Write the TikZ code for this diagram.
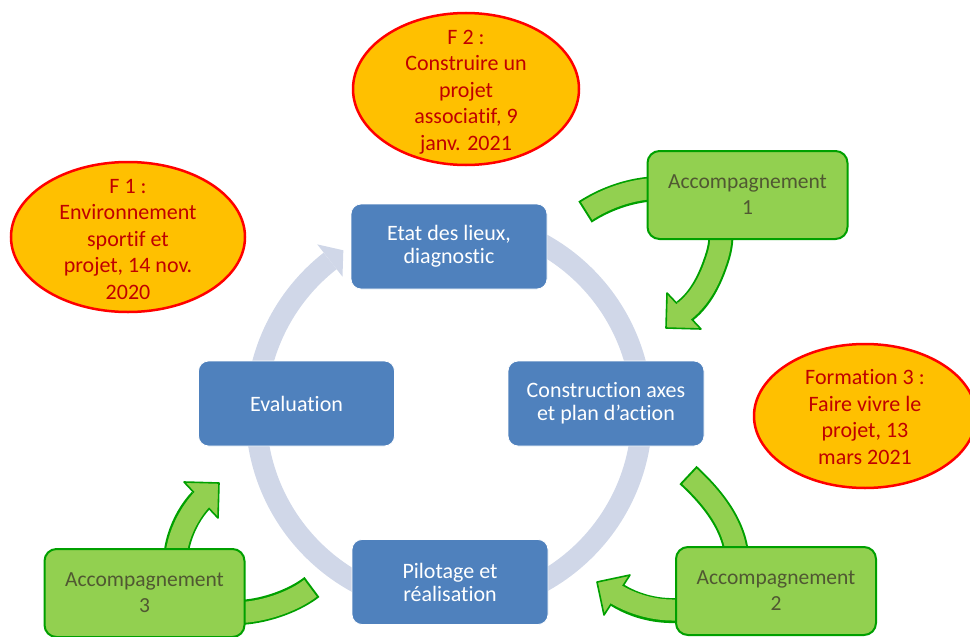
\documentclass[tikz,border=0pt]{standalone}
\usepackage{fontspec}
\setmainfont{Carlito}[Ligatures=NoCommon]
\usetikzlibrary{calc,shapes.geometric}
\definecolor{boxblue}{RGB}{79,129,189}
\definecolor{ringcol}{RGB}{208,215,232}
\definecolor{orangefill}{RGB}{255,192,0}
\definecolor{redline}{RGB}{255,0,0}
\definecolor{redtext}{RGB}{192,0,0}
\definecolor{greenfill}{RGB}{146,208,80}
\definecolor{greenline}{RGB}{0,160,0}
\definecolor{greentext}{RGB}{80,88,50}
\newcommand{\accarrow}[3]{%
  \draw[line width=25pt, greenline, shorten >=4pt] #1;
  \filldraw[fill=greenfill, draw=greenline, line width=1.6pt, line join=round]
    ($(#2)!1!90:(#3)$) -- (#3) -- ($(#2)!1!-90:(#3)$) -- cycle;
  \draw[line width=21pt, greenfill, shorten <=2pt] #1;
}
\begin{document}
\begin{tikzpicture}[x=1pt,y=-1pt,
  bluebox/.style={rectangle, rounded corners=10pt, fill=boxblue, draw=white, line width=0.8pt,
    minimum width=196pt, minimum height=85pt, text=white, align=center,
    font=\fontsize{22}{23}\selectfont},
  greenbox/.style={rectangle, rounded corners=12pt, fill=greenfill, draw=greenline, line width=2pt,
    minimum width=200pt, minimum height=88pt, text=greentext, align=center,
    font=\fontsize{21.5}{26}\selectfont},
  ellshape/.style={ellipse, fill=orangefill, draw=redline, line width=2.5pt, inner sep=0pt},
  elltext/.style={text=redtext, align=center, inner sep=0pt, font=\fontsize{22}{26.5}\selectfont},
  ringline/.style={ringcol, line width=21pt}
]
\clip (0,0) rectangle (970,637);
% cycle ring
\coordinate (C) at (449,413);
\draw[ringline] ($(C)+(90:193pt)$) arc[start angle=90, end angle=-232, radius=193pt];
\fill[ringcol] ($(C)+(-232:214pt)$) -- ($(C)+(-237:194pt)$) -- ($(C)+(-232:173pt)$) -- cycle;

% green curved arrows
\coordinate (a1s) at (585,212);
\coordinate (a1b) at (684,311);
\coordinate (a1t) at (666,328);
\coordinate (a1e) at ($(a1b)!4pt!(a1t)$);
\accarrow{(a1s) .. controls (650,170) and (738,185) .. (718,255) .. controls (709,285) and (697,302) .. (a1e)}{a1b}{a1t}

\coordinate (a2s) at (688,475);
\coordinate (a2b) at (617,595);
\coordinate (a2t) at (597,582);
\coordinate (a2e) at ($(a2b)!4pt!(a2t)$);
\accarrow{(a2s) .. controls (715,500) and (738,530) .. (737,565) .. controls (736,610) and (665,625) .. (a2e)}{a2b}{a2t}

\coordinate (a3s) at (312,587);
\coordinate (a3b) at (201,500);
\coordinate (a3t) at (219,483);
\coordinate (a3e) at ($(a3b)!4pt!(a3t)$);
\accarrow{(a3s) .. controls (280,612) and (200,632) .. (178,580) .. controls (170,555) and (182,520) .. (a3e)}{a3b}{a3t}

% green boxes
\node[greenbox] (acc1) at (747.5,195) {Accompagnement\\1};
\node[greenbox] (acc2) at (776,591) {Accompagnement\\2};
\node[greenbox] (acc3) at (144.5,593) {Accompagnement\\3};

% blue boxes
\node[bluebox] (etat) at (449,246.5) {Etat des lieux,\\diagnostic};
\node[bluebox] (constr) at (606,403.5) {Construction axes\\et plan d’action};
\node[bluebox] (eval) at (296.5,403.5) {Evaluation};
\node[bluebox] (pilot) at (450,582) {Pilotage et\\réalisation};

% ellipses
\node[ellshape, minimum width=226pt, minimum height=152pt] (f2) at (466,89) {};
\node[elltext] (f2t) at ([yshift=-3pt]f2.center) {F 2 :\\Construire un\\projet\\associatif, 9\\janv. 2021};
\node[ellshape, minimum width=234pt, minimum height=150pt] (f1) at (128,237) {};
\node[elltext] (f1t) at ([yshift=-2pt]f1.center) {F 1 :\\Environnement\\sportif et\\projet, 14 nov.\\2020};
\node[ellshape, minimum width=222pt, minimum height=144pt] (f3) at (865,416) {};
\node[elltext] (f3t) at ([yshift=-1pt]f3.center) {Formation 3 :\\Faire vivre le\\projet, 13\\mars 2021};
\end{tikzpicture}
\end{document}
